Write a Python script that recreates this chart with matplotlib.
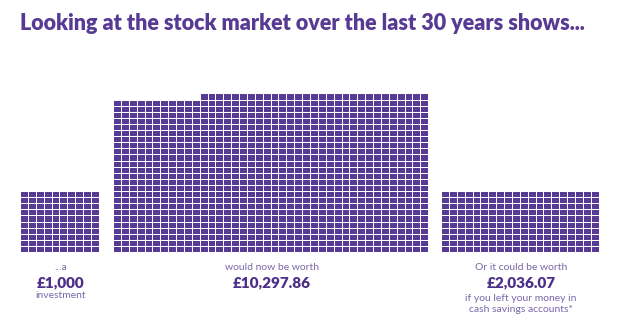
import matplotlib
matplotlib.use("Agg")
import matplotlib.pyplot as plt
from matplotlib.patches import Rectangle
from matplotlib.collections import PatchCollection

# each square stands for roughly £10
squares = [100, 1029, 200]
columns = [10, 40, 20]
amounts = ["£1,000", "£10,297.86", "£2,036.07"]
captions_above = ["...a", "would now be worth", "Or it could be worth"]
captions_below = ["investment", "", "if you left your money in\ncash savings accounts*"]
title = "Looking at the stock market over the last 30 years shows..."

PURPLE = "#573a93"
DARK = "#4e2f88"
LIGHT = "#7a68aa"

plt.rcParams["font.family"] = ["Lato", "DejaVu Sans"]

fig = plt.figure(figsize=(6.2, 3.26), dpi=100)
ax = fig.add_axes([0, 0, 1, 1])
ax.set_xlim(0, 620)
ax.set_ylim(326, 0)
ax.axis("off")

pitch_x = 7.88
pitch_y = 6.1
gap = 1.0
bottom = 253
block_left = [21, 114, 442]


def draw_block(n, ncols, x0):
    rects = []
    full_rows = n // ncols
    rest = n - full_rows * ncols
    for i in range(n):
        if i < full_rows * ncols:
            row = i // ncols
            col = i % ncols
        else:
            row = full_rows
            col = ncols - rest + (i - full_rows * ncols)
        x = x0 + col * pitch_x
        y = bottom - (row + 1) * pitch_y
        rects.append(Rectangle((x, y), pitch_x - gap, pitch_y - gap))
    ax.add_collection(PatchCollection(rects, facecolor=PURPLE, edgecolor="none"))
    return x0 + ncols * pitch_x


for n, ncols, x0, amount, above, below in zip(squares, columns, block_left, amounts,
                                               captions_above, captions_below):
    x1 = draw_block(n, ncols, x0)
    cx = (x0 + x1) / 2
    ax.text(cx, 268, above, ha="center", va="center", fontsize=7.5, color=LIGHT)
    ax.text(cx, 283, amount, ha="center", va="center", fontsize=11, fontweight="heavy", color=DARK)
    if below:
        ax.text(cx, 296 if "\n" not in below else 304, below, ha="center", va="center",
                fontsize=7.5, color=LIGHT, linespacing=1.2)

ax.text(20, 23, title, ha="left", va="center", fontsize=15.5, fontweight="heavy", color=PURPLE)

fig.savefig("out.png", dpi=100)
